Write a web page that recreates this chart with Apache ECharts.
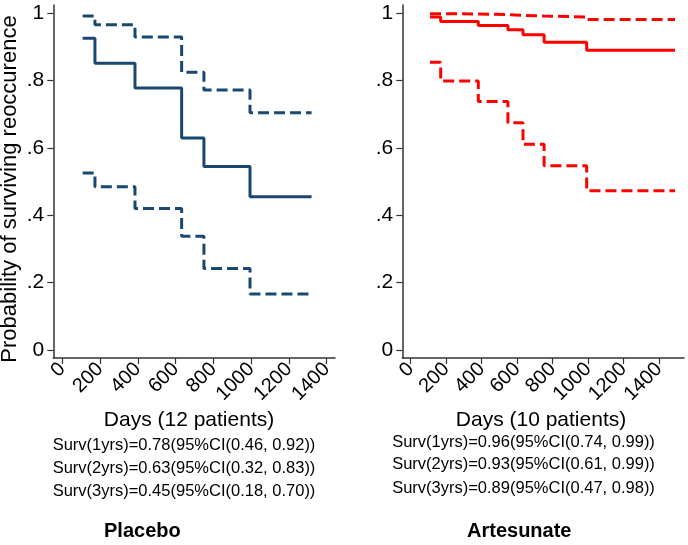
<!DOCTYPE html>
<html>
<head>
<meta charset="utf-8">
<script src="https://cdn.jsdelivr.net/npm/echarts@6/dist/echarts.min.js"></script>
<style>html,body{margin:0;padding:0;background:#fff;}#c{width:688px;height:545px;}</style>
</head>
<body>
<div id="c"></div>
<script>
// ---- data ----
const xTickValues = [0, 200, 400, 600, 800, 1000, 1200, 1400];
const xTickLabels = ['0', '200', '400', '600', '800', '1000', '1200', '1400'];
const yTickValues = [0, 0.2, 0.4, 0.6, 0.8, 1];
const yTickLabels = ['0', '.2', '.4', '.6', '.8', '1'];

const leftDays  = [108, 173, 385, 632, 750, 994, 1320];
const leftSurv  = [0.926, 0.852, 0.778, 0.630, 0.545, 0.455, 0.455];
const leftUpper = [0.992, 0.966, 0.930, 0.825, 0.772, 0.705, 0.705];
const leftLower = [0.526, 0.485, 0.420, 0.338, 0.242, 0.166, 0.166];

const rightDays  = [109, 169, 381, 548, 633, 752, 992, 1490];
const rightSurv  = [0.989, 0.976, 0.964, 0.951, 0.936, 0.914, 0.890, 0.890];
const rightUpper = [0.999, 0.998, 0.996, 0.994, 0.992, 0.989, 0.982, 0.982];
const rightLower = [0.855, 0.799, 0.738, 0.675, 0.611, 0.547, 0.473, 0.473];

const yTitle = 'Probability of surviving reoccurence';
const leftXTitle = 'Days (12 patients)';
const rightXTitle = 'Days (10 patients)';
const leftNotes = ['Surv(1yrs)=0.78(95%CI(0.46, 0.92))', 'Surv(2yrs)=0.63(95%CI(0.32, 0.83))', 'Surv(3yrs)=0.45(95%CI(0.18, 0.70))'];
const rightNotes = ['Surv(1yrs)=0.96(95%CI(0.74, 0.99))', 'Surv(2yrs)=0.93(95%CI(0.61, 0.99))', 'Surv(3yrs)=0.89(95%CI(0.47, 0.98))'];
const leftCaption = 'Placebo';
const rightCaption = 'Artesunate';

// ---- chart ----
const FONT = '"Liberation Sans", Arial, Helvetica, sans-serif';
const NAVY = '#1a476f';
const RED = '#ff0000';
const AXIS = '#333333';

function pairs(xs, ys) { return xs.map((x, i) => [x, ys[i]]); }
function nearestLabel(values, labels, v) {
  let best = 0;
  values.forEach((t, i) => { if (Math.abs(t - v) < Math.abs(values[best] - v)) best = i; });
  return labels[best];
}

function xAxisDef(gi, min, max) {
  return {
    type: 'value', gridIndex: gi, min: min, max: max,
    axisLine: { show: true, onZero: false, lineStyle: { color: AXIS, width: 1.5 } },
    axisTick: { show: true, length: 6, customValues: xTickValues, lineStyle: { color: AXIS, width: 1.2 } },
    axisLabel: {
      show: true, customValues: xTickValues, rotate: 45, margin: 8, fontSize: 20, color: '#000', fontFamily: FONT,
      formatter: function (v) { return nearestLabel(xTickValues, xTickLabels, v); }
    },
    splitLine: { show: false }
  };
}
function yAxisDef(gi) {
  return {
    type: 'value', gridIndex: gi, min: -0.0238, max: 1.0247,
    axisLine: { show: true, onZero: false, lineStyle: { color: AXIS, width: 1.5 } },
    axisTick: { show: true, length: 6, customValues: yTickValues, lineStyle: { color: AXIS, width: 1.2 } },
    axisLabel: {
      show: true, customValues: yTickValues, margin: 9, fontSize: 21, color: '#000', fontFamily: FONT,
      formatter: function (v) { return nearestLabel(yTickValues, yTickLabels, v); }
    },
    splitLine: { show: false }
  };
}
function lineSeries(gi, data, color, dashed) {
  return {
    type: 'line', xAxisIndex: gi, yAxisIndex: gi, step: 'end', symbol: 'none',
    data: data, silent: true, animation: false,
    lineStyle: { color: color, width: 3, type: dashed ? [11, 5] : 'solid', cap: 'butt' }
  };
}
function txt(x, y, s, opts) {
  return {
    type: 'text', x: x, y: y, silent: true,
    style: Object.assign({ text: s, fill: '#000', font: '16px ' + FONT, align: 'center', verticalAlign: 'middle' }, opts || {})
  };
}

const graphics = [
  { type: 'text', x: 10, y: 189, rotation: Math.PI / 2, silent: true,
    style: { text: yTitle, fill: '#000', font: '22px ' + FONT, align: 'center', verticalAlign: 'middle' } },
  txt(189, 420, leftXTitle, { font: '21px ' + FONT }),
  txt(541, 420, rightXTitle, { font: '21px ' + FONT }),
  txt(184, 445.5, leftNotes[0], { font: '16.5px ' + FONT }),
  txt(184, 468.5, leftNotes[1], { font: '16.5px ' + FONT }),
  txt(184, 491.5, leftNotes[2], { font: '16.5px ' + FONT }),
  txt(523.5, 442, rightNotes[0], { font: '16.5px ' + FONT }),
  txt(523.5, 464, rightNotes[1], { font: '16.5px ' + FONT }),
  txt(523.5, 488, rightNotes[2], { font: '16.5px ' + FONT }),
  txt(104, 531.5, leftCaption, { font: 'bold 20px ' + FONT, align: 'left' }),
  txt(467, 531.5, rightCaption, { font: 'bold 20px ' + FONT, align: 'left' })
];

const chart = echarts.init(document.getElementById('c'), null, { renderer: 'canvas' });
chart.setOption({
  backgroundColor: '#ffffff',
  animation: false,
  grid: [
    { left: 53.3, top: 5, width: 281.7, height: 353 },
    { left: 402.3, top: 5, width: 281.7, height: 353 }
  ],
  xAxis: [xAxisDef(0, -47.5, 1444), xAxisDef(1, -47.4, 1540.6)],
  yAxis: [yAxisDef(0), yAxisDef(1)],
  series: [
    lineSeries(0, pairs(leftDays, leftUpper), NAVY, true),
    lineSeries(0, pairs(leftDays, leftLower), NAVY, true),
    lineSeries(0, pairs(leftDays, leftSurv), NAVY, false),
    lineSeries(1, pairs(rightDays, rightUpper), RED, true),
    lineSeries(1, pairs(rightDays, rightLower), RED, true),
    lineSeries(1, pairs(rightDays, rightSurv), RED, false)
  ],
  graphic: graphics
});
</script>
</body>
</html>
